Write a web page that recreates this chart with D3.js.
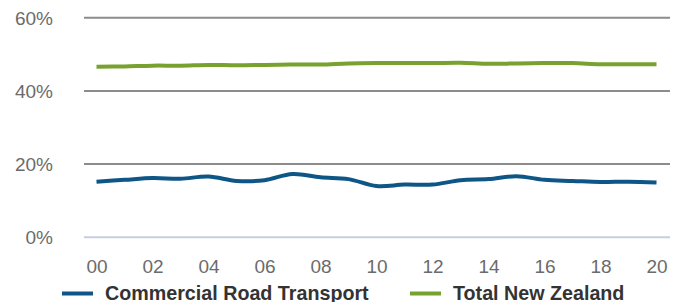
<!DOCTYPE html>
<html><head><meta charset="utf-8">
<script src="https://cdn.jsdelivr.net/npm/d3@7"></script>
<style>
html,body{margin:0;padding:0;background:#fff;}
svg{display:block;font-family:"Liberation Sans",Arial,sans-serif;}
</style></head>
<body><svg id="c" width="678" height="302"></svg>
<script>
const years = ["00","01","02","03","04","05","06","07","08","09","10","11","12","13","14","15","16","17","18","19","20"];
const tickLabels = ["00","02","04","06","08","10","12","14","16","18","20"];
const yTicks = [0,20,40,60];
const commercialRoad = [15.2,15.7,16.2,16.0,16.6,15.4,15.6,17.3,16.4,15.9,14.0,14.4,14.4,15.6,15.9,16.7,15.7,15.4,15.1,15.2,15.0];
const totalNZ = [46.6,46.7,46.9,46.9,47.1,47.0,47.1,47.2,47.2,47.5,47.6,47.6,47.6,47.7,47.4,47.5,47.6,47.6,47.3,47.3,47.3];
const seriesNames = ["Commercial Road Transport","Total New Zealand"];
const colors = ["#0d5686","#78a22f"];

const svg = d3.select("#c");
const x = d3.scalePoint().domain(years).range([96.5, 656.5]);
const y = d3.scaleLinear().domain([0,60]).range([237.3, 17.7]);

// gridlines
svg.append("g").selectAll("line").data(yTicks).join("line")
  .attr("x1",84).attr("x2",670)
  .attr("y1",d=>y(d)).attr("y2",d=>y(d))
  .attr("stroke",d=>d===0?"#c6cfe0":"#8c8c8c")
  .attr("stroke-width",2);

// y labels
svg.append("g").selectAll("text").data(yTicks).join("text")
  .attr("x",53).attr("y",d=>y(d)+7)
  .attr("text-anchor","end")
  .attr("font-size",19).attr("fill","#6b6b6b")
  .text(d=>d+"%");

// x labels via axis
const xAxis = d3.axisBottom(x).tickValues(tickLabels).tickSize(0).tickPadding(0);
const gx = svg.append("g").attr("transform","translate(0,259)").call(xAxis);
gx.select(".domain").remove();
gx.selectAll("text").attr("font-size",19).attr("fill","#6b6b6b")
  .attr("font-family","Liberation Sans, Arial, sans-serif").attr("dy","0.71em");

// lines
const line = d3.line().x((d,i)=>x(years[i])).y(d=>y(d)).curve(d3.curveCatmullRom.alpha(0.5));
[commercialRoad,totalNZ].forEach((s,k)=>{
  svg.append("path").datum(s).attr("d",line)
    .attr("fill","none").attr("stroke",colors[k]).attr("stroke-width",4)
    .attr("stroke-linecap","butt").attr("stroke-linejoin","round");
});

// legend
const legX = [62,410];
seriesNames.forEach((n,k)=>{
  svg.append("line").attr("x1",legX[k]).attr("x2",legX[k]+31)
    .attr("y1",293.5).attr("y2",293.5).attr("stroke",colors[k]).attr("stroke-width",4);
  svg.append("text").attr("x",legX[k]+43).attr("y",299.5)
    .attr("font-size",19.7).attr("font-weight","bold").attr("fill","#333333").text(n);
});
</script></body></html>
